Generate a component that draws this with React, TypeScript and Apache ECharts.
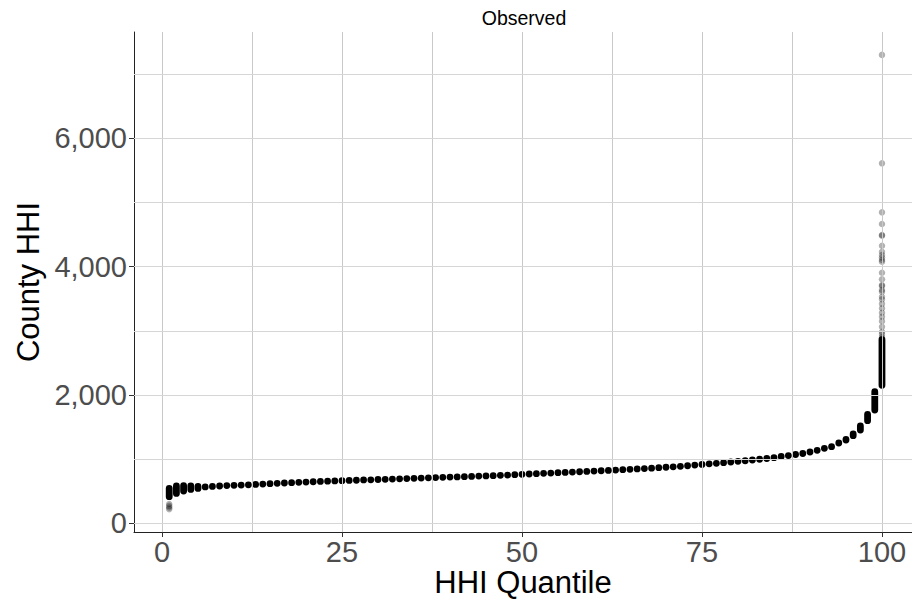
import React, { useEffect, useRef } from "react";
import * as echarts from "echarts";

// HHI quantile (1..100)
const quantiles: number[] = Array.from({ length: 100 }, (_, i) => i + 1);

// Lowest and highest county HHI among the dense points of each quantile
const hhiLow: number[] = [
  413, 465, 502, 527, 542, 566, 573, 580, 586, 591,
  595, 598, 604, 610, 616, 621, 627, 632, 637, 642,
  646, 651, 655, 659, 663, 667, 670, 674, 677, 681,
  684, 688, 692, 696, 700, 703, 707, 711, 715, 719,
  722, 726, 730, 734, 737, 741, 746, 751, 756, 762,
  767, 772, 777, 782, 787, 792, 797, 802, 807, 812,
  818, 823, 829, 834, 840, 846, 852, 858, 865, 872,
  879, 887, 896, 906, 916, 925, 934, 944, 954, 964,
  974, 985, 997, 1009, 1022, 1040, 1055, 1071, 1087, 1110,
  1136, 1167, 1193, 1250, 1297, 1364, 1453, 1598, 1765, 2150,
];
const hhiHigh: number[] = [
  544, 580, 586, 582, 575, 566, 573, 580, 586, 591,
  595, 598, 604, 610, 616, 621, 627, 632, 637, 642,
  646, 651, 655, 659, 663, 667, 670, 674, 677, 681,
  684, 688, 692, 696, 700, 703, 707, 711, 715, 719,
  722, 726, 730, 734, 737, 741, 746, 751, 756, 762,
  767, 772, 777, 782, 787, 792, 797, 802, 807, 812,
  818, 823, 829, 834, 840, 846, 852, 858, 865, 872,
  879, 887, 896, 906, 916, 925, 934, 944, 954, 964,
  974, 985, 997, 1009, 1022, 1040, 1055, 1071, 1087, 1110,
  1136, 1167, 1193, 1250, 1308, 1391, 1515, 1698, 2050, 2860,
];

// Sparse (individually visible) counties
const sparseQuantile: number[] = [
  1, 1, 1, 1,
  100, 100, 100, 100, 100, 100, 100, 100, 100, 100,
  100, 100, 100, 100, 100, 100, 100, 100, 100, 100,
  100, 100, 100, 100, 100, 100, 100, 100, 100, 100,
];
const sparseHHI: number[] = [
  220, 245, 270, 300,
  7300, 5610, 4846, 4664, 4493, 4482, 4326, 4232, 4181, 4140,
  4103, 4077, 3905, 3802, 3713, 3698, 3635, 3609, 3531, 3490,
  3420, 3350, 3280, 3219, 3150, 3063, 2985, 2950, 2900, 2880,
];

const xTicks: number[] = [0, 25, 50, 75, 100];
const yTicks: number[] = [0, 2000, 4000, 6000];
const xGrid: number[] = [0, 12.5, 25, 37.5, 50, 62.5, 75, 87.5, 100];
const yGrid: number[] = [0, 1000, 2000, 3000, 4000, 5000, 6000, 7000];

const FONT = "Liberation Sans, Arial, sans-serif";

export default function App() {
  const ref = useRef<HTMLDivElement>(null);
  useEffect(() => {
    if (!ref.current) return;
    const chart = echarts.init(ref.current, null, { renderer: "svg" });
    const R = 3.4;
    const ranges = quantiles.map((q, i) => [q, hhiLow[i], hhiHigh[i]]);
    const sparse = sparseQuantile.map((q, i) => [q, sparseHHI[i]]);
    chart.setOption({
      animation: false,
      backgroundColor: "#ffffff",
      title: {
        text: "Observed",
        left: 519,
        top: 3,
        textAlign: "center",
        textStyle: { fontFamily: FONT, fontSize: 19.5, fontWeight: "normal", color: "#000" },
      },
      grid: { left: 134, top: 32, width: 778, height: 500, containLabel: false, outerBoundsMode: "none" },
      xAxis: {
        type: "value",
        min: -3.89,
        max: 104.17,
        name: "HHI Quantile",
        nameLocation: "middle",
        nameGap: 35,
        nameMoveOverlap: false,
        nameTextStyle: { fontFamily: FONT, fontSize: 31, lineHeight: 31, color: "#000" },
        axisLine: { show: true, onZero: false, lineStyle: { color: "#222", width: 1 } },
        axisTick: { show: true, customValues: xTicks, length: 5, lineStyle: { color: "#333" } },
        axisLabel: {
          customValues: xTicks,
          margin: 6,
          fontFamily: FONT,
          fontSize: 29,
          lineHeight: 28,
          color: "#4d4d4d",
        },
        splitLine: { show: false },
      },
      yAxis: {
        type: "value",
        min: -137,
        max: 7657,
        name: "County HHI",
        nameLocation: "middle",
        nameGap: 90,
        nameMoveOverlap: false,
        nameTextStyle: { fontFamily: FONT, fontSize: 31, color: "#000" },
        axisLine: { show: true, onZero: false, lineStyle: { color: "#222", width: 1 } },
        axisTick: { show: true, customValues: yTicks, length: 5, lineStyle: { color: "#333" } },
        axisLabel: {
          customValues: yTicks,
          margin: 7,
          fontFamily: FONT,
          fontSize: 29,
          color: "#4d4d4d",
          formatter: (v: number) => v.toLocaleString("en-US"),
        },
        splitLine: { show: false },
      },
      series: [
        {
          type: "scatter",
          data: [],
          silent: true,
          markLine: {
            silent: true,
            symbol: "none",
            label: { show: false },
            animation: false,
            data: [
              ...xGrid.map((x) => ({ xAxis: x, lineStyle: { color: "#c9c9c9", width: 1, type: "solid" } })),
              ...yGrid.map((y) => ({ yAxis: y, lineStyle: { color: "#d6d6d6", width: 1, type: "solid" } })),
            ],
          },
        },
        {
          type: "custom",
          data: ranges,
          silent: true,
          renderItem: (params: any, api: any) => {
            const q = api.value(0);
            const lo = api.value(1);
            const hi = api.value(2);
            const pTop = api.coord([q, hi]);
            const pBot = api.coord([q, lo]);
            return {
              type: "rect",
              shape: { x: pTop[0] - R, y: pTop[1] - R, width: 2 * R, height: pBot[1] - pTop[1] + 2 * R, r: R },
              style: { fill: "#000" },
            };
          },
        },
        {
          type: "scatter",
          data: sparse,
          symbol: "circle",
          symbolSize: 6.5,
          silent: true,
          itemStyle: { color: "#000", opacity: 0.3 },
        },
      ],
    });
    return () => chart.dispose();
  }, []);
  return <div ref={ref} style={{ width: 912, height: 600, position: "absolute", left: 0, top: 0 }} />;
}
